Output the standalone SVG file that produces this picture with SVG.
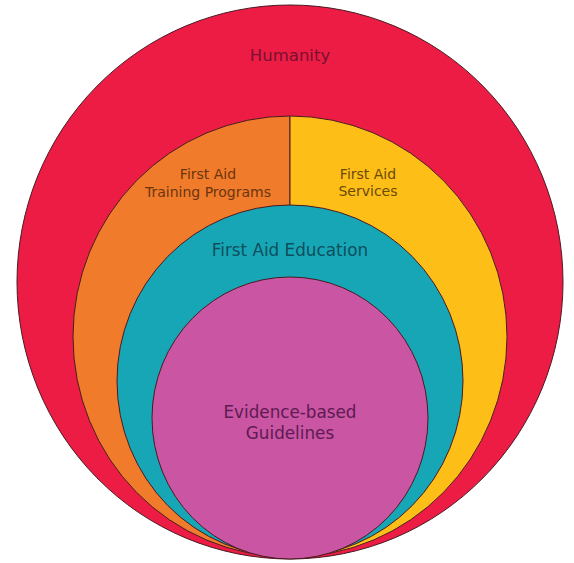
<svg xmlns="http://www.w3.org/2000/svg" width="574" height="563" viewBox="0 0 574 563">
  <style>
    .ring { stroke: #4a1a22; stroke-width: 1; }
    .lbl { font-family: "DejaVu Sans", "Noto Sans", sans-serif; text-anchor: middle; }
  </style>
  <rect width="574" height="563" fill="#ffffff"/>

  <g id="humanity">
    <ellipse class="ring" cx="290" cy="282" rx="273" ry="277" fill="#EC1C45"/>
    <text class="lbl" x="290" y="61" font-size="16.5" fill="#7a1030">Humanity</text>
  </g>

  <g id="first-aid-training-programs">
    <path class="ring" d="M290 116 A217 220.5 0 0 0 290 557 Z" fill="#F07B2A"/>
    <text class="lbl" x="208" y="179" font-size="14" fill="#6b3510">First Aid</text>
    <text class="lbl" x="208" y="197" font-size="14" fill="#6b3510">Training Programs</text>
  </g>

  <g id="first-aid-services">
    <path class="ring" d="M290 116 A217 220.5 0 0 1 290 557 Z" fill="#FDBE17"/>
    <text class="lbl" x="368" y="179" font-size="14" fill="#6b4a0a">First Aid</text>
    <text class="lbl" x="368" y="196" font-size="14" fill="#6b4a0a">Services</text>
  </g>

  <g id="first-aid-education">
    <ellipse class="ring" cx="290" cy="381" rx="173" ry="176" fill="#17A6B5"/>
    <text class="lbl" x="290" y="256" font-size="16.8" fill="#0d4f5e">First Aid Education</text>
  </g>

  <g id="evidence-based-guidelines">
    <ellipse class="ring" cx="290" cy="418" rx="138" ry="141" fill="#C955A3"/>
    <text class="lbl" x="290" y="418" font-size="16.8" fill="#5e1a52">Evidence-based</text>
    <text class="lbl" x="290" y="439" font-size="16.8" fill="#5e1a52">Guidelines</text>
  </g>

  <g id="connectors"></g>
</svg>
